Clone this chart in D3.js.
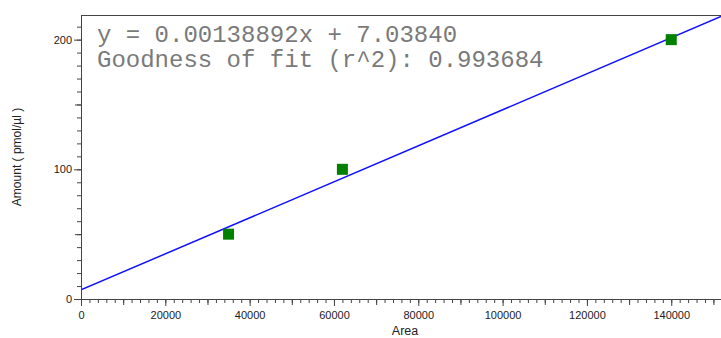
<!DOCTYPE html>
<html>
<head>
<meta charset="utf-8">
<script src="https://cdn.jsdelivr.net/npm/d3@7"></script>
<style>
  body { margin: 0; background: #fff; }
  text { font-family: "Liberation Sans", Arial, sans-serif; }
  text.fit { font-family: "Courier New", "Liberation Mono", monospace; }
</style>
</head>
<body>
<script>
// calibration points
const areas = [35000, 62000, 140000];
const amounts = [50, 100, 200];
// fit
const slope = 0.00138892, intercept = 7.03840;
const fitLines = ['y = 0.00138892x + 7.03840', 'Goodness of fit (r^2): 0.993684'];
const xTicks = [0, 20000, 40000, 60000, 80000, 100000, 120000, 140000];
const yTicks = [0, 100, 200];

const width = 721, height = 338;
const margin = { top: 15, right: 0, bottom: 39, left: 81 };

const svg = d3.select('body').append('svg')
    .attr('width', width)
    .attr('height', height)
    .attr('viewBox', [0, 0, width, height]);

const x = d3.scaleLinear()
    .domain([0, 151800])
    .range([margin.left, width - margin.right]);

const y = d3.scaleLinear()
    .domain([0, 219])
    .range([height - margin.bottom, margin.top]);

svg.append('clipPath').attr('id', 'clip')
  .append('rect')
    .attr('x', margin.left).attr('y', margin.top)
    .attr('width', width - margin.left).attr('height', height - margin.bottom - margin.top);

// fit line
const x0 = x.domain()[0], x1 = x.domain()[1];
svg.append('line')
    .attr('clip-path', 'url(#clip)')
    .attr('x1', x(x0)).attr('y1', y(slope * x0 + intercept))
    .attr('x2', x(x1)).attr('y2', y(slope * x1 + intercept))
    .attr('stroke', '#1010ff')
    .attr('stroke-width', 1.5);

// points
svg.append('g')
    .attr('fill', '#008000')
  .selectAll('rect')
  .data(areas)
  .join('rect')
    .attr('x', (d, i) => x(d) - 5.5)
    .attr('y', (d, i) => y(amounts[i]) - 5.5)
    .attr('width', 11)
    .attr('height', 11);

// axes
const axisColor = '#444';
const xAxis = svg.append('g')
    .attr('transform', `translate(0,${height - margin.bottom})`);
xAxis.append('g')
    .call(d3.axisBottom(x).tickValues(d3.range(0, 151801, 2000)).tickFormat('').tickSize(4).tickSizeOuter(0));
xAxis.append('g')
    .call(d3.axisBottom(x).tickValues(d3.range(10000, 151801, 20000)).tickFormat('').tickSize(6).tickSizeOuter(0))
    .call(g => g.select('.domain').remove());
xAxis.append('g')
    .call(d3.axisBottom(x).tickValues(xTicks).tickFormat(d3.format('d')).tickSize(7).tickSizeOuter(0))
    .call(g => g.select('.domain').remove())
    .call(g => g.selectAll('text').attr('font-size', 11).attr('fill', '#222').attr('dy', '0.9em'));

const yAxis = svg.append('g')
    .attr('transform', `translate(${margin.left},0)`);
yAxis.append('g')
    .call(d3.axisLeft(y).tickValues(d3.range(0, 219, 10)).tickFormat('').tickSize(4).tickSizeOuter(0));
yAxis.append('g')
    .call(d3.axisLeft(y).tickValues([50, 150]).tickFormat('').tickSize(6).tickSizeOuter(0))
    .call(g => g.select('.domain').remove());
yAxis.append('g')
    .call(d3.axisLeft(y).tickValues(yTicks).tickSize(7).tickSizeOuter(0))
    .call(g => g.select('.domain').remove())
    .call(g => g.selectAll('text').attr('font-size', 11).attr('fill', '#222').attr('x', -9));

svg.selectAll('.domain, .tick line').attr('stroke', axisColor);

// top border
svg.append('line')
    .attr('x1', margin.left).attr('x2', width)
    .attr('y1', margin.top + 0.5).attr('y2', margin.top + 0.5)
    .attr('stroke', axisColor);

// axis titles
svg.append('text')
    .attr('x', 405)
    .attr('y', 335)
    .attr('text-anchor', 'middle')
    .attr('font-size', 12.5)
    .attr('fill', '#222')
    .text('Area');

svg.append('text')
    .attr('transform', `translate(21,${(margin.top + height - margin.bottom) / 2}) rotate(-90)`)
    .attr('text-anchor', 'middle')
    .attr('font-size', 12)
    .attr('fill', '#222')
    .text('Amount ( pmol/µl )');

// fit annotation
svg.append('g')
  .selectAll('text')
  .data(fitLines)
  .join('text')
    .attr('class', 'fit')
    .attr('x', 97)
    .attr('y', (d, i) => 42 + i * 25)
    .attr('font-size', 24)
    .attr('fill', '#7a7a7a')
    .attr('xml:space', 'preserve')
    .text(d => d);
</script>
</body>
</html>
